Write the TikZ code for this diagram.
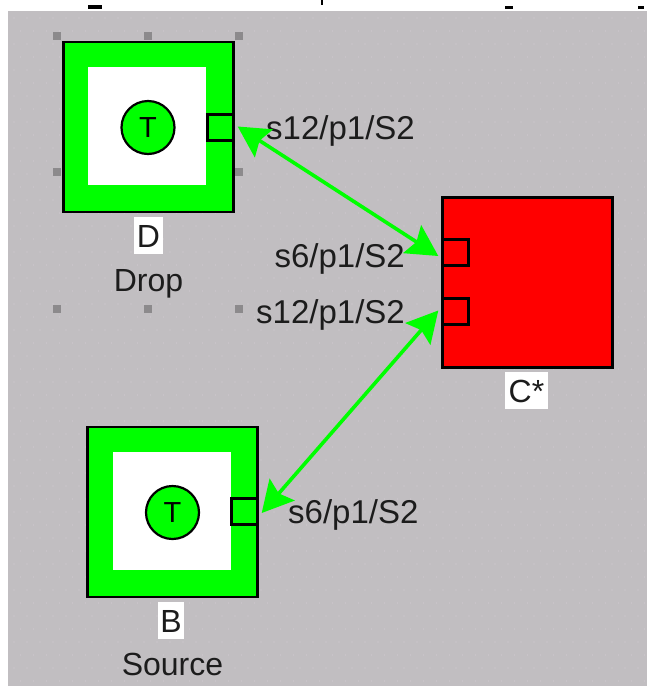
\documentclass[tikz,border=0pt]{standalone}
\usepackage{fontspec}
\setmainfont{Liberation Sans}
\usetikzlibrary{arrows.meta}
\definecolor{canvasgrey}{HTML}{C1BEC1}
\definecolor{dotgrey}{HTML}{CAC5CA}
\definecolor{handlegrey}{HTML}{8C8A8C}
\definecolor{pure green}{HTML}{00FF00}
\definecolor{inkdark}{HTML}{1C1C1C}
\tikzset{
  txt/.style={font=\fontsize{32}{32}\selectfont,text=inkdark,inner sep=0pt},
  porttxt/.style={font=\fontsize{33}{33}\selectfont,text=inkdark,inner sep=0pt},
  outerbox/.style={draw=black,line width=2.4pt,minimum size=170pt,inner sep=0pt,fill=pure green},
  innerbox/.style={fill=white,minimum size=118pt,inner sep=0pt},
  portbox/.style={draw=black,line width=2.4pt,minimum size=26pt,inner sep=0pt},
  token/.style={circle,draw=black,line width=2.2pt,fill=pure green,minimum size=53pt,inner sep=0pt,
    text=black,text height=20pt,text depth=0pt,font=\fontsize{29}{29}\selectfont},
  tag/.style={fill=white,inner sep=0pt,minimum height=37pt,text height=23pt,text depth=0pt,
    font=\fontsize{32}{32}\selectfont,text=inkdark},
  handle/.style={fill=handlegrey,minimum size=8pt,inner sep=0pt},
  link/.style={draw=pure green,line width=3.6pt,
    {Stealth[length=31pt,width=33pt,inset=5pt]}-{Stealth[length=31pt,width=33pt,inset=5pt]}}
}
\begin{document}
\begin{tikzpicture}[x=1pt,y=-1pt]
\useasboundingbox (0,0) rectangle (647,686);
\fill[white] (0,0) rectangle (647,686);
\fill[canvasgrey] (8,11) rectangle (647,686);
% faint canvas dots
\foreach \r in {0,...,51}{
  \pgfmathsetmacro{\off}{mod(\r,2)*6.5}
  \foreach \c in {0,...,48}{
    \fill[dotgrey] ({14+\c*13+\off},{18+\r*13}) circle (0.9pt);
  }
}
% stray marks along the top edge
\fill[black] (88,5) rectangle (102,9);
\fill[black] (321,0) rectangle (323,5);
\fill[black] (505,6) rectangle (513,9);
\fill[black] (638,6) rectangle (644,9);
% selection handles
\foreach \n/\x/\y in {a/57/36,b/148/36,c/239/36,d/57/172,e/239/172,f/57/309,g/148/309,h/239/309}{
  \node[handle] (h\n) at (\x,\y) {};
}
% D
\node[outerbox] (dbox) at (148.5,127) {};
\node[innerbox] (dinner) at (147,125.5) {};
\node[token] (dtok) at (148,127.5) {T};
\node[portbox,fill=pure green] (dport) at (220.5,127.5) {};
\node[tag,minimum width=29pt] (dtag) at (148.5,235.5) {D};
\node[txt,anchor=base] (dname) at (148.5,291) {Drop};
% C
\node[outerbox,fill=red] (cbox) at (527.5,282.5) {};
\node[portbox,fill=red] (cportA) at (455.5,252.5) {};
\node[portbox,fill=red] (cportB) at (455.5,311.5) {};
\node[tag,minimum width=43pt] (ctag) at (526.5,390.5) {C*};
% B
\node[outerbox] (bbox) at (172.5,512) {};
\node[innerbox] (binner) at (171.5,510.5) {};
\node[token] (btok) at (172.5,512.5) {T};
\node[portbox,fill=pure green] (bport) at (244.5,511.5) {};
\node[tag,minimum width=26pt] (btag) at (171,620.5) {B};
\node[txt,anchor=base] (bname) at (172.5,675) {Source};
% connector labels
\node[porttxt,anchor=base west] (l1) at (266,139) {s12/p1/S2};
\node[porttxt,anchor=base east] (l2) at (405,267) {s6/p1/S2};
\node[porttxt,anchor=base east] (l3) at (405,323) {s12/p1/S2};
\node[porttxt,anchor=base west] (l4) at (288,523) {s6/p1/S2};
% connectors
\draw[link] ([shift={(3,-1)}]dport.east) -- ([shift={(-3,3.5)}]cportA.west);
\draw[link] ([shift={(3,1.5)}]bport.east) -- ([shift={(-3,-1)}]cportB.west);
\end{tikzpicture}
\end{document}
